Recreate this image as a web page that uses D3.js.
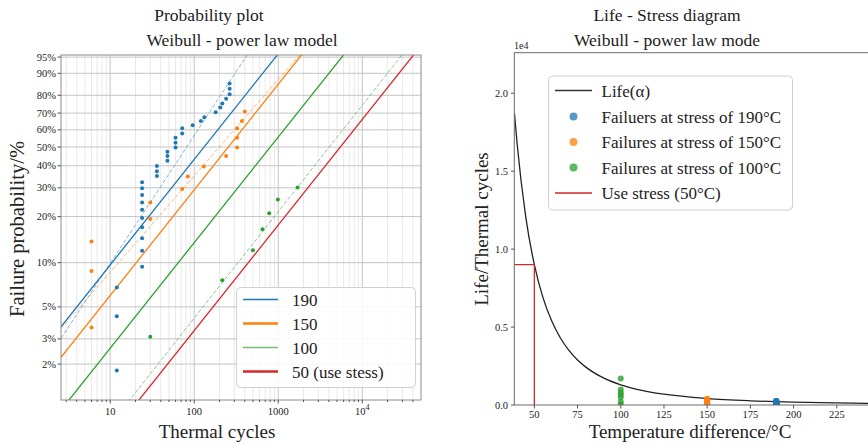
<!DOCTYPE html>
<html>
<head>
<meta charset="utf-8">
<script src="https://cdn.jsdelivr.net/npm/d3@7"></script>
<style>
  body { margin: 0; background: #ffffff; }
  text { font-family: "Liberation Serif", "DejaVu Serif", serif; fill: #222; }
</style>
</head>
<body>
<div id="container"></div>
<script>
// ---- data ----
const stressLevels = [190, 150, 100, 50];
const stressColors = ["#1f77b4", "#ff7f0e", "#2ca02c", "#d62728"];

// failure times (thermal cycles) and their plotting positions
const blueTimes = [12, 12, 12, 24, 24, 24, 24, 24, 24, 24, 24, 24, 24, 36, 36, 36, 48, 48, 48,
                   60, 60, 60, 72, 72, 96, 120, 132, 180, 204, 216, 240, 264, 264, 264];
const blueF = [0.018, 0.043, 0.068, 0.094, 0.120, 0.145, 0.171, 0.196, 0.221, 0.245, 0.272, 0.298, 0.323,
               0.351, 0.373, 0.399, 0.425, 0.451, 0.474, 0.497, 0.524, 0.554, 0.579, 0.609,
               0.628, 0.653, 0.676, 0.705, 0.732, 0.756, 0.782, 0.806, 0.833, 0.858];
const orangeTimes = [6, 6, 6, 30, 30, 72, 84, 130, 240, 324, 324, 324, 370, 400];
const orangeF = [0.036, 0.088, 0.138, 0.193, 0.245, 0.295, 0.349, 0.396, 0.451, 0.497, 0.554, 0.609, 0.653, 0.709];
const greenTimes = [30, 216, 500, 650, 780, 990, 1700];
const greenF = [0.031, 0.076, 0.121, 0.166, 0.210, 0.255, 0.301];

// fitted Weibull lines (scale alpha, shape beta)
const fitAlpha = [214, 416, 1315, 8950];
const fitBeta = [0.747, 0.747, 0.747, 0.747];
const indAlpha = [122, 341, 6590];
const indBeta = [0.905, 0.682, 0.753];

// life - stress curve
const lifeTemp = [38.5, 40, 45, 50, 55, 60, 65, 70, 75, 80, 90, 100, 110, 125, 150, 175, 200, 225, 250];
const lifeValue = [18710, 16810, 12090, 9000, 6890, 5400, 4317, 3508, 2892, 2414, 1736, 1292, 990, 692, 415, 270, 185, 134, 99];

const yTickF = [0.02, 0.03, 0.05, 0.1, 0.2, 0.3, 0.4, 0.5, 0.6, 0.7, 0.8, 0.9, 0.95];
const yTickLabels = ["2%", "3%", "5%", "10%", "20%", "30%", "40%", "50%", "60%", "70%", "80%", "90%", "95%"];
const xMajor = [10, 100, 1000, 10000];
const rightXTicks = [50, 75, 100, 125, 150, 175, 200, 225];
const rightYTicks = [0, 5000, 10000, 15000, 20000];

let viz = d3.select("#container")
  .append("svg")
    .attr("width", 868)
    .attr("height", 445);

// ================= Probability plot =================
const weib = F => Math.log(-Math.log(1 - F));
const x = d3.scaleLog().domain([2.6, 50000]).range([61, 421]);
const y = d3.scaleLinear().domain([-4.487, 1.132]).range([400, 55]);

viz.append("defs").append("clipPath").attr("id", "clipL")
  .append("rect").attr("x", 61).attr("y", 55).attr("width", 360).attr("height", 345);

// minor vertical grid
let minors = [];
[1, 10, 100, 1000, 10000].forEach(d => {
  for (let k = 2; k <= 9; k++) {
    const v = d * k;
    if (v > 2.6 && v < 50000) minors.push(v);
  }
});
viz.append("g").selectAll("line").data(minors).join("line")
    .attr("x1", d => x(d)).attr("x2", d => x(d))
    .attr("y1", 55).attr("y2", 400)
    .attr("stroke", "#e9e9e9").attr("stroke-width", 1);
viz.append("g").selectAll("line").data(xMajor).join("line")
    .attr("x1", d => x(d)).attr("x2", d => x(d))
    .attr("y1", 55).attr("y2", 400)
    .attr("stroke", "#c4c4c4").attr("stroke-width", 1);
viz.append("g").selectAll("line").data(yTickF).join("line")
    .attr("x1", 61).attr("x2", 421)
    .attr("y1", d => y(weib(d))).attr("y2", d => y(weib(d)))
    .attr("stroke", "#c4c4c4").attr("stroke-width", 1);

const linesG = viz.append("g").attr("clip-path", "url(#clipL)");
const tEnds = x.domain();

// individual fits (dashed)
indAlpha.forEach((a, i) => {
  const u = tEnds.map(t => indBeta[i] * (Math.log(t) - Math.log(a)));
  linesG.append("line")
    .attr("x1", x(tEnds[0])).attr("y1", y(u[0]))
    .attr("x2", x(tEnds[1])).attr("y2", y(u[1]))
    .attr("stroke", stressColors[i]).attr("stroke-width", 1)
    .attr("stroke-opacity", 0.55)
    .attr("stroke-dasharray", "4,2");
});
// common-shape fits (solid)
fitAlpha.forEach((a, i) => {
  const u = tEnds.map(t => fitBeta[i] * (Math.log(t) - Math.log(a)));
  linesG.append("line")
    .attr("x1", x(tEnds[0])).attr("y1", y(u[0]))
    .attr("x2", x(tEnds[1])).attr("y2", y(u[1]))
    .attr("stroke", stressColors[i]).attr("stroke-width", 1.3);
});

// failure points
[[blueTimes, blueF], [orangeTimes, orangeF], [greenTimes, greenF]].forEach((s, i) => {
  linesG.append("g").selectAll("circle").data(s[0]).join("circle")
    .attr("cx", d => x(d))
    .attr("cy", (d, j) => y(weib(s[1][j])))
    .attr("r", 2)
    .attr("fill", stressColors[i]);
});

// frame
viz.append("rect")
    .attr("x", 61).attr("y", 55).attr("width", 360).attr("height", 345)
    .attr("fill", "none").attr("stroke", "#8a8a8a").attr("stroke-width", 1);

// y ticks
viz.append("g").selectAll("line").data(yTickF).join("line")
    .attr("x1", 57.5).attr("x2", 61)
    .attr("y1", d => y(weib(d))).attr("y2", d => y(weib(d)))
    .attr("stroke", "#555");
viz.append("g").selectAll("text").data(yTickF).join("text")
    .text((d, i) => yTickLabels[i])
    .attr("x", 56).attr("y", d => y(weib(d)) + 3.5)
    .attr("text-anchor", "end")
    .attr("font-size", 10.5);

// x ticks
viz.append("g").selectAll("line").data(minors).join("line")
    .attr("x1", d => x(d)).attr("x2", d => x(d))
    .attr("y1", 400).attr("y2", 402)
    .attr("stroke", "#555");
viz.append("g").selectAll("line").data(xMajor).join("line")
    .attr("x1", d => x(d)).attr("x2", d => x(d))
    .attr("y1", 400).attr("y2", 403.5)
    .attr("stroke", "#555");
xMajor.forEach(d => {
  const t = viz.append("text")
    .attr("x", x(d)).attr("y", 415)
    .attr("text-anchor", "middle")
    .attr("font-size", 10.5);
  if (d >= 10000) {
    t.append("tspan").text("10");
    t.append("tspan").text(String(Math.round(Math.log10(d)))).attr("dy", -5).attr("font-size", 8);
  } else {
    t.text(d);
  }
});

// legend (left)
viz.append("rect")
    .attr("x", 236.5).attr("y", 287.5).attr("width", 179).attr("height", 100)
    .attr("rx", 4)
    .attr("fill", "#ffffff").attr("fill-opacity", 0.85)
    .attr("stroke", "#d0d0d0");
const legL = ["190", "150", "100", "50 (use stess)"];
const legW = [1.3, 2.4, 1.3, 2.4];
const legOp = [1, 1, 0.65, 1];
legL.forEach((d, i) => {
  viz.append("line")
    .attr("x1", 243).attr("x2", 278)
    .attr("y1", 299.5 + i * 24).attr("y2", 299.5 + i * 24)
    .attr("stroke", stressColors[i]).attr("stroke-width", legW[i])
    .attr("stroke-opacity", legOp[i]);
  viz.append("text")
    .text(d)
    .attr("x", 292).attr("y", 305.5 + i * 24)
    .attr("font-size", 17);
});

// titles and labels (left)
viz.append("text").text("Probability plot")
    .attr("x", 209).attr("y", 21).attr("text-anchor", "middle").attr("font-size", 17.5);
viz.append("text").text("Weibull - power law model")
    .attr("x", 242).attr("y", 46).attr("text-anchor", "middle").attr("font-size", 17.5);
viz.append("text").text("Thermal cycles")
    .attr("x", 217).attr("y", 438).attr("text-anchor", "middle").attr("font-size", 19);
viz.append("text").text("Failure probability/%")
    .attr("transform", "translate(24,229) rotate(-90)")
    .attr("text-anchor", "middle").attr("font-size", 20.5);

// ================= Life - Stress diagram =================
const xR = d3.scaleLinear().domain([38.4, 250]).range([514.3, 880]);
const yR = d3.scaleLinear().domain([0, 22600]).range([405, 52.7]);

viz.append("defs").append("clipPath").attr("id", "clipR")
  .append("rect").attr("x", 514.3).attr("y", 52.7).attr("width", 366).attr("height", 352.3);

const rG = viz.append("g").attr("clip-path", "url(#clipR)");

rG.append("path")
    .datum(lifeTemp)
    .attr("d", d3.line().x(d => xR(d)).y((d, i) => yR(lifeValue[i])).curve(d3.curveMonotoneX))
    .attr("fill", "none")
    .attr("stroke", "#222")
    .attr("stroke-width", 1.3);

// failure points at each stress
[blueTimes, orangeTimes, greenTimes].forEach((s, i) => {
  rG.append("g").selectAll("circle").data(s).join("circle")
    .attr("cx", xR(stressLevels[i]))
    .attr("cy", d => yR(d))
    .attr("r", 3)
    .attr("fill", stressColors[i])
    .attr("fill-opacity", 0.8);
});

// use stress lines
const useLife = lifeValue[lifeTemp.indexOf(stressLevels[3])];
rG.append("line")
    .attr("x1", xR(38.4)).attr("x2", xR(stressLevels[3]))
    .attr("y1", yR(useLife)).attr("y2", yR(useLife))
    .attr("stroke", stressColors[3]).attr("stroke-width", 1.3);
rG.append("line")
    .attr("x1", xR(stressLevels[3])).attr("x2", xR(stressLevels[3]))
    .attr("y1", yR(0)).attr("y2", yR(useLife))
    .attr("stroke", stressColors[3]).attr("stroke-width", 1.3);

// frame
viz.append("rect")
    .attr("x", 514.3).attr("y", 52.7).attr("width", 366).attr("height", 352.3)
    .attr("fill", "none").attr("stroke", "#6a6a6a").attr("stroke-width", 1);

// ticks
viz.append("g").selectAll("line").data(rightYTicks).join("line")
    .attr("x1", 511).attr("x2", 514.3)
    .attr("y1", d => yR(d)).attr("y2", d => yR(d))
    .attr("stroke", "#555");
viz.append("g").selectAll("text").data(rightYTicks).join("text")
    .text(d => (d / 1e4).toFixed(1))
    .attr("x", 508).attr("y", d => yR(d) + 3.5)
    .attr("text-anchor", "end").attr("font-size", 10.5);
viz.append("text").text("1e4")
    .attr("x", 514).attr("y", 49).attr("font-size", 10);
viz.append("g").selectAll("line").data(rightXTicks).join("line")
    .attr("x1", d => xR(d)).attr("x2", d => xR(d))
    .attr("y1", 405).attr("y2", 408.5)
    .attr("stroke", "#555");
viz.append("g").selectAll("text").data(rightXTicks).join("text")
    .text(d => d)
    .attr("x", d => xR(d)).attr("y", 418)
    .attr("text-anchor", "middle").attr("font-size", 10.5);

// legend (right)
viz.append("rect")
    .attr("x", 548.5).attr("y", 76).attr("width", 244).attr("height", 134)
    .attr("rx", 4)
    .attr("fill", "#ffffff").attr("fill-opacity", 0.85)
    .attr("stroke", "#d0d0d0");
viz.append("line")
    .attr("x1", 555).attr("x2", 592).attr("y1", 90.5).attr("y2", 90.5)
    .attr("stroke", "#333").attr("stroke-width", 1.5);
viz.append("text").text("Life(α)").attr("x", 601.5).attr("y", 96.5).attr("font-size", 17);
const legR = ["Failuers at stress of 190°C", "Failures at stress of 150°C", "Failures at stress of 100°C"];
legR.forEach((d, i) => {
  viz.append("circle")
    .attr("cx", 573.5).attr("cy", 116.5 + i * 25.5).attr("r", 4)
    .attr("fill", stressColors[i]).attr("fill-opacity", 0.75);
  viz.append("text").text(d).attr("x", 601.5).attr("y", 122.5 + i * 25.5).attr("font-size", 17);
});
viz.append("line")
    .attr("x1", 555).attr("x2", 592).attr("y1", 193).attr("y2", 193)
    .attr("stroke", stressColors[3]).attr("stroke-width", 1.5);
viz.append("text").text("Use stress (" + stressLevels[3] + "°C)")
    .attr("x", 601.5).attr("y", 199).attr("font-size", 17);

// titles and labels (right)
viz.append("text").text("Life - Stress diagram")
    .attr("x", 667).attr("y", 21).attr("text-anchor", "middle").attr("font-size", 17.5);
viz.append("text").text("Weibull - power law mode")
    .attr("x", 667).attr("y", 46).attr("text-anchor", "middle").attr("font-size", 17.5);
viz.append("text").text("Temperature difference/°C")
    .attr("x", 690).attr("y", 438).attr("text-anchor", "middle").attr("font-size", 19);
viz.append("text").text("Life/Thermal cycles")
    .attr("transform", "translate(488,229) rotate(-90)")
    .attr("text-anchor", "middle").attr("font-size", 19);
</script>
</body>
</html>
